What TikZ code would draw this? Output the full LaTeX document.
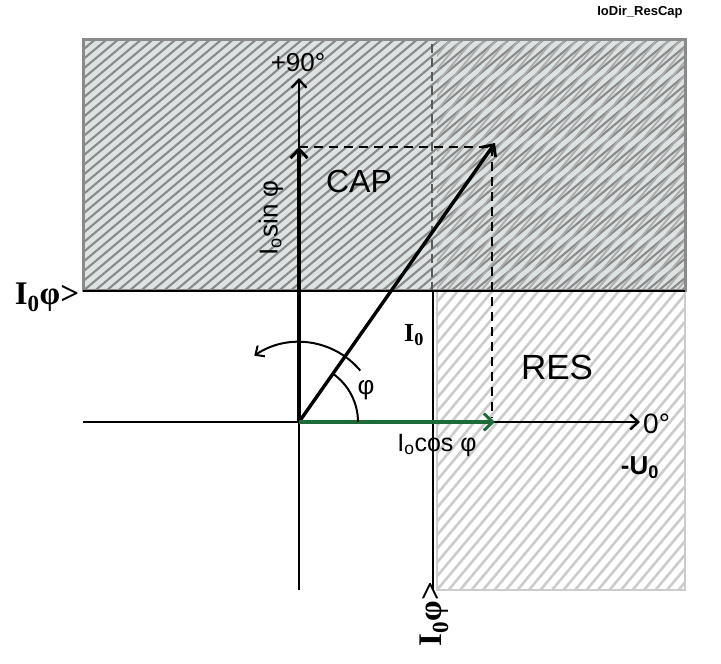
\documentclass[tikz,border=0pt]{standalone}
\usepackage{fontspec}
\setmainfont{Liberation Sans}
\newfontfamily\serifbf{Liberation Serif}
\usetikzlibrary{arrows.meta}
\definecolor{capfill}{HTML}{DDE2E2}
\definecolor{caphatch}{HTML}{8A8A8A}
\definecolor{reshatch}{HTML}{CCCCCC}
\definecolor{vgreen}{HTML}{1E6B3A}
\tikzset{
  ax/.style={line width=2.4pt,-{Straight Barb[length=8pt,width=15pt,line width=2.4pt]}},
  thick arrow/.style={line width=3.4pt,-{Straight Barb[length=9pt,width=17pt,line width=3pt]}},
  dashline/.style={line width=2.2pt,dash pattern=on 9pt off 6pt},
  lbl/.style={font=\fontsize{26}{28}\selectfont,inner sep=0pt},
  serlbl/.style={font=\serifbf\bfseries\fontsize{33}{35}\selectfont,inner sep=0pt},
}
\begin{document}
\begin{tikzpicture}[x=1pt,y=1pt]
\useasboundingbox (0,0) rectangle (721,664);
% regions
\fill[capfill] (83,373) rectangle (685,624);
\begin{scope}
  \clip (83,373) rectangle (685,624);
  \foreach \k in {-28,...,53} \draw[caphatch,line width=2.1pt] (83+11.5*\k,373) -- ++(40:400);
\end{scope}
\begin{scope}
  \clip (437,74) rectangle (685,373);
  \foreach \k in {-30,...,23} \draw[reshatch,line width=2.6pt] (437+11.5*\k,74) -- ++(50:480);
\end{scope}
\begin{scope}
  \clip (437,373) rectangle (685,624);
  \foreach \k in {-42,...,23} \draw[caphatch!70,line width=1.8pt] (437+11.5*\k,74) -- ++(50:740);
\end{scope}
\draw[reshatch,line width=2.5pt] (437,373) -- (437,74) -- (685,74) -- (685,373);
\draw[caphatch,line width=3pt] (83,373) rectangle (685,624);
\draw[black!65,line width=2pt,dash pattern=on 9pt off 5pt] (432,373) -- (432,622);
% coordinates
\coordinate (O) at (299,242);
\coordinate (xl) at (83,242);
\coordinate (xr) at (640,242);
\coordinate (yb) at (299,74);
\coordinate (yt) at (299,586);
\coordinate (tip) at (495,521);
\coordinate (sinp) at (299,517);
\coordinate (cosp) at (495,242);
\coordinate (dc) at (492,517);
\coordinate (dcb) at (492,246);
\coordinate (hl) at (83,373);
\coordinate (hr) at (685,373);
\coordinate (vt) at (433,373);
\coordinate (vb) at (433,74);
% threshold lines
\draw[line width=2.4pt] (hl) -- (hr);
\draw[line width=2.4pt] (vt) -- (vb);
% axes
\draw[line width=2.4pt] (yb) -- (O);
\draw[ax] (O) -- (yt);
\draw[ax] (xl) -- (xr);
% dashed projections
\draw[dashline] (sinp) -- (dc);
\draw[dashline] (dc) -- (dcb);
% vectors
\draw[thick arrow] (O) -- (sinp);
\draw[thick arrow] (O) -- (tip);
\draw[thick arrow,vgreen,line width=4pt] (O) -- (cosp);
% arcs
\draw[line width=2pt] ([shift={(0:59)}]O) arc[start angle=0,end angle=55,radius=59];
\draw[line width=2pt,-{Straight Barb[length=7pt,width=13pt,line width=2pt]}] ([shift={(40:80)}]O) arc[start angle=40,end angle=124,radius=80];
% labels
\node[lbl] (p90) at (298,601) {+90°};
\node[lbl,anchor=west,font=\fontsize{28}{30}\selectfont] (z0) at (643,240) {0°};
\node[lbl,font=\bfseries\fontsize{26}{28}\selectfont] (u0) at (640,196) {-U\textsubscript{0}};
\node[font=\fontsize{32}{34}\selectfont,inner sep=0pt] (cap) at (359,483) {CAP};
\node[font=\fontsize{35}{37}\selectfont,inner sep=0pt] (res) at (557,297) {RES};
\node[font=\serifbf\bfseries\fontsize{26}{28}\selectfont,inner sep=0pt] (i0) at (414,329) {I\textsubscript{0}};
\node[lbl] (phi) at (366,274) {φ};
\node[lbl,font=\fontsize{25}{27}\selectfont] (cosl) at (437,219) {I\textsubscript{o}cos φ};
\node[lbl,rotate=90] (sinl) at (271,446) {I\textsubscript{o}sin φ};
\node[serlbl] (thl) at (47,367) {I\textsubscript{0}φ>};
\node[serlbl,rotate=90] (thb) at (434,50) {I\textsubscript{0}φ>};
\node[font=\bfseries\fontsize{13}{15}\selectfont,inner sep=0pt] (tag) at (640,652) {IoDir\_ResCap};
\end{tikzpicture}
\end{document}
